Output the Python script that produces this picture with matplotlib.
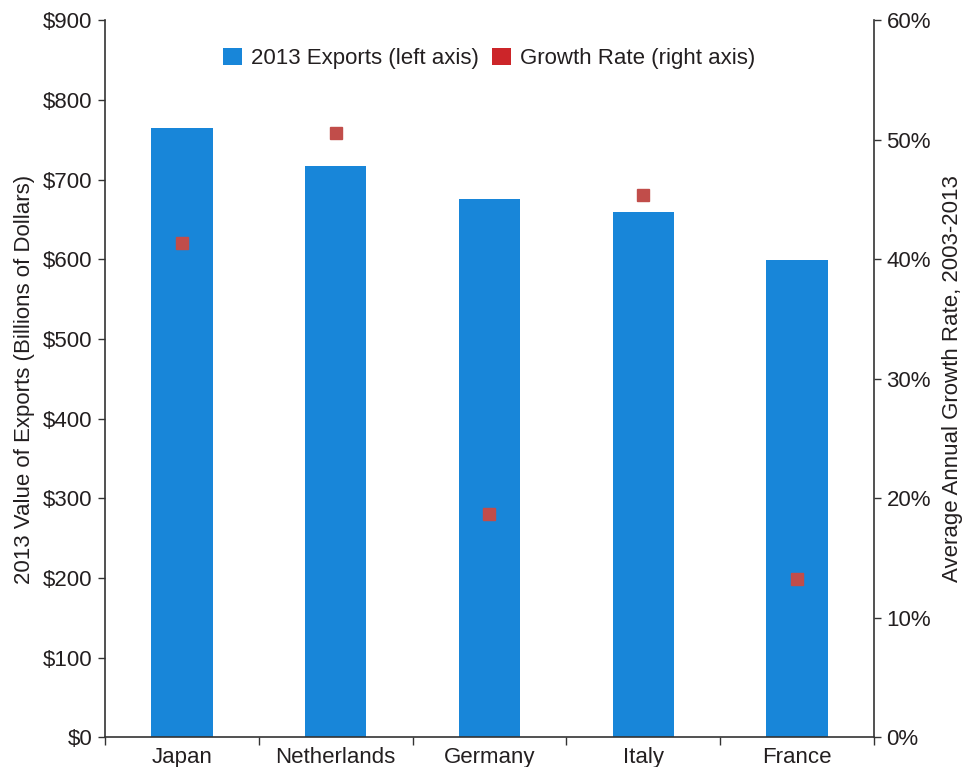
import matplotlib
matplotlib.use("Agg")
import matplotlib.pyplot as plt
from matplotlib.patches import Patch
from matplotlib.ticker import FuncFormatter, MultipleLocator

plt.rcParams['font.family'] = ['Liberation Sans', 'DejaVu Sans']

countries = ["Japan", "Netherlands", "Germany", "Italy", "France"]
exports_2013 = [765, 717, 676, 660, 599]          # billions of dollars
growth_rate = [41.4, 50.6, 18.7, 45.4, 13.3]     # percent, 2003-2013

bar_color = "#1886D9"
marker_color = "#C14D4A"
legend_red = "#CC2529"
text_color = "#231F20"
spine_color = "#333333"
fs = 16

fig = plt.figure(figsize=(9.79, 7.67), dpi=100)
ax = fig.add_axes([0.1073, 0.0385, 0.7854, 0.9348])
ax2 = ax.twinx()

x = list(range(len(countries)))
ax.bar(x, exports_2013, width=0.4, color=bar_color, zorder=2)
ax2.plot(x, growth_rate, linestyle="none", marker="s", markersize=8.6,
         color=marker_color, zorder=3)

ax.set_xlim(-0.5, len(countries) - 0.5)
ax.set_ylim(0, 900)
ax2.set_ylim(0, 60)

ax.yaxis.set_major_locator(MultipleLocator(100))
ax.yaxis.set_major_formatter(FuncFormatter(lambda v, p: f"${v:.0f}"))
ax2.yaxis.set_major_locator(MultipleLocator(10))
ax2.yaxis.set_major_formatter(FuncFormatter(lambda v, p: f"{v:.0f}%"))

# category boundaries get the tick marks, category centres get the names
ax.set_xticks([i - 0.5 for i in range(len(countries) + 1)], minor=False)
ax.set_xticklabels([])
ax.set_xticks(x, minor=True)
ax.set_xticklabels(countries, minor=True)
ax.tick_params(axis="x", which="major", length=6, width=1, color=spine_color, direction="out")
ax.tick_params(axis="x", which="minor", length=0, pad=7, labelsize=fs, labelcolor=text_color)
ax.tick_params(axis="y", length=5, width=1, color=spine_color, labelsize=fs,
               labelcolor=text_color, pad=4)
ax2.tick_params(axis="y", length=5, width=1, color=spine_color, labelsize=fs,
                labelcolor=text_color, pad=4)

for a in (ax, ax2):
    a.spines["top"].set_visible(False)
    for s in ("left", "right", "bottom"):
        a.spines[s].set_color(spine_color)
        a.spines[s].set_linewidth(1.2)
ax.spines["right"].set_visible(False)
ax2.spines["left"].set_visible(False)
ax2.spines["bottom"].set_visible(False)

ax.set_ylabel("2013 Value of Exports (Billions of Dollars)", fontsize=fs,
              color=text_color, labelpad=6)
ax2.set_ylabel("Average Annual Growth Rate, 2003-2013", fontsize=fs,
               color=text_color, labelpad=8)

handles = [Patch(facecolor=bar_color, edgecolor="none"),
           Patch(facecolor=legend_red, edgecolor="none")]
labels = ["2013 Exports (left axis)", "Growth Rate (right axis)"]
leg = ax.legend(handles, labels, loc="upper center", bbox_to_anchor=(0.5, 0.99),
                ncol=2, frameon=False, fontsize=fs, handlelength=0.85,
                handleheight=0.85, handletextpad=0.4, columnspacing=0.6)
for t in leg.get_texts():
    t.set_color(text_color)

fig.savefig("out.png", dpi=100)
